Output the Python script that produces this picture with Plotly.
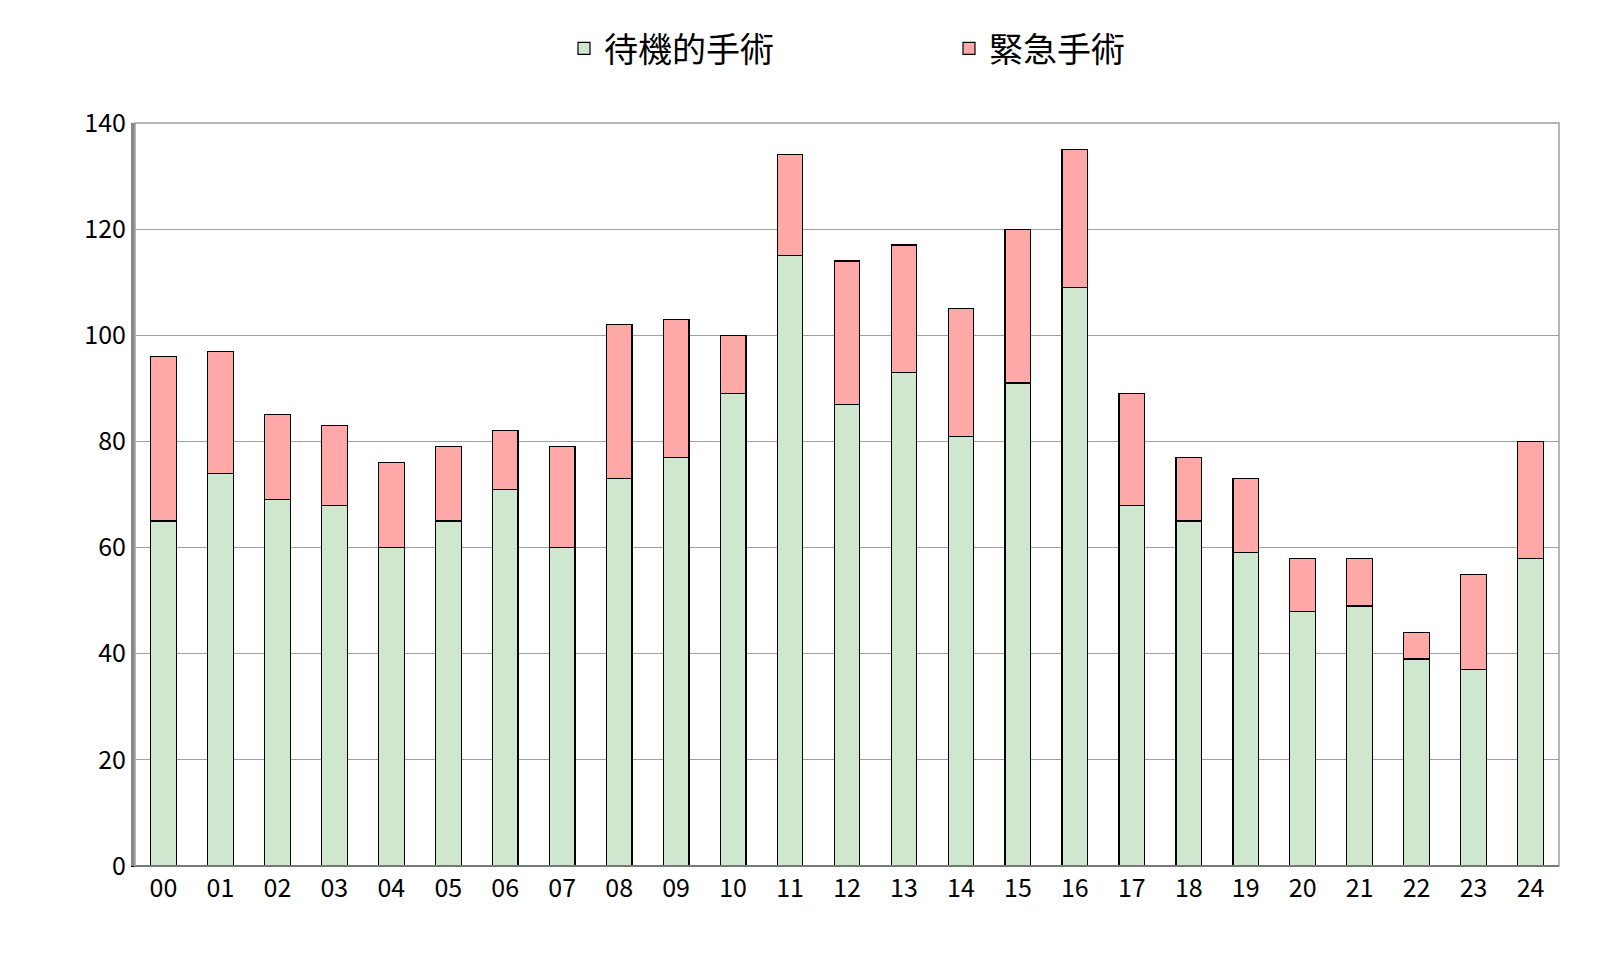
import plotly.graph_objects as go

categories = ["00","01","02","03","04","05","06","07","08","09","10","11","12","13","14","15","16","17","18","19","20","21","22","23","24"]
elective = [65,74,69,68,60,65,71,60,73,77,89,115,87,93,81,91,109,68,65,59,48,49,39,37,58]
total = [96,97,85,83,76,79,82,79,102,103,100,134,114,117,105,120,135,89,77,73,58,58,44,55,80]
emergency = [t - e for t, e in zip(total, elective)]

fig = go.Figure()
fig.add_bar(x=categories, y=elective, name="待機的手術　　　　　",
            marker=dict(color="#cfe6cf", line=dict(color="black", width=1.2)))
fig.add_bar(x=categories, y=emergency, name="緊急手術",
            marker=dict(color="#ffa8a8", line=dict(color="black", width=1.2)))

fig.update_layout(
    barmode="stack", bargap=0.55,
    width=1616, height=968,
    paper_bgcolor="white", plot_bgcolor="white",
    margin=dict(l=127, r=65, t=112, b=110),
    font=dict(family="Noto Sans CJK JP", color="black"),
    legend=dict(orientation="h", x=0.5, xanchor="center", y=1.1, yanchor="middle",
                font=dict(size=34), traceorder="normal"),
    xaxis=dict(tickfont=dict(size=25), showline=True, linecolor="black", ticks=""),
    yaxis=dict(range=[0, 140], dtick=20, tickfont=dict(size=25), showgrid=True,
               gridcolor="#a0a0a0", showline=True, linecolor="#888", linewidth=4,
               zeroline=True, zerolinecolor="black", ticks=""),
)
fig.add_shape(type="rect", xref="paper", yref="paper", x0=0, x1=1, y0=0, y1=1,
              line=dict(color="#a0a0a0", width=1.5))
fig.write_html("out.html")
